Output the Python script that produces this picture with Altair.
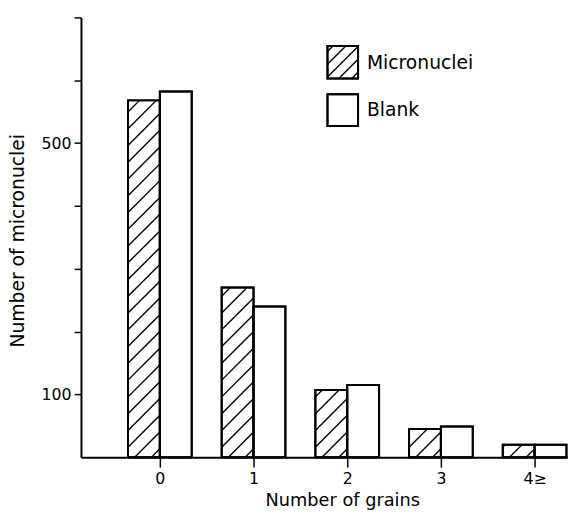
import altair as alt
import pandas as pd

# ---- data ----
grains = ["0", "1", "2", "3", "4≥"]
micronuclei = [568, 270, 107, 45, 20]
blank = [582, 240, 115, 49, 20]
y_ticks = [100, 200, 300, 400, 500, 600, 700]
y_labels = [100, 500]

# ---- layout ----
W, H = 493, 446
XMIN, XMAX = -0.842, 4.347
YMAX = 700
BW = 0.34          # bar width in category units
SP = 17            # hatch spacing (px)
FONT = "DejaVu Sans"

pxx = W / (XMAX - XMIN)
pxy = H / YMAX


def hatch(w_px, h_px, s=SP):
    """45-degree '/' hatch segments inside a w x h box, pixel units from bottom-left."""
    segs = []
    c = -w_px + s / 2
    while c < h_px:
        u0 = max(0.0, -c)
        u1 = min(w_px, h_px - c)
        if u1 > u0:
            segs.append((u0, c + u0, u1, c + u1))
        c += s
    return segs


bar_rows, hatch_rows = [], []
for i, g in enumerate(grains):
    bar_rows.append(dict(g=g, series="Micronuclei", x0=i - BW, x1=i, v=micronuclei[i]))
    bar_rows.append(dict(g=g, series="Blank", x0=i, x1=i + BW, v=blank[i]))
    for u0, h0, u1, h1 in hatch(BW * pxx, micronuclei[i] * pxy):
        hatch_rows.append(dict(x0=i - BW + u0 / pxx, v=h0 / pxy,
                               x1=i - BW + u1 / pxx, v2=h1 / pxy))
bars = pd.DataFrame(bar_rows)
hatches = pd.DataFrame(hatch_rows)

xs = alt.Scale(domain=[XMIN, XMAX], nice=False, zero=False)
ys = alt.Scale(domain=[0, YMAX], nice=False)

x_axis = alt.Axis(values=[0, 1, 2, 3, 4], title="Number of grains",
                  labelExpr="datum.value == 4 ? '4≥' : format(datum.value, 'd')",
                  domainColor="black", domainWidth=2, tickColor="black",
                  tickWidth=1.5, tickSize=10, labelPadding=4, labelFontSize=16,
                  labelColor="black", labelFont=FONT, titleFont=FONT,
                  titleFontSize=18, titleFontWeight="normal", titleColor="black",
                  titleX=265, titleY=44, titleBaseline="middle", grid=False,
                  labelFlush=False)
y_axis = alt.Axis(values=y_ticks, title="Number of micronuclei",
                  labelExpr="datum.value == 100 || datum.value == 500 ? datum.label : ''",
                  domainColor="black", domainWidth=2, tickColor="black",
                  tickWidth=1.5, tickSize=7, labelPadding=3, labelFontSize=16,
                  labelColor="black", labelFont=FONT, titleFont=FONT,
                  titleFontSize=19, titleFontWeight="normal", titleColor="black",
                  titleX=-64, titleY=226, titleBaseline="middle", grid=False)

fill_layer = alt.Chart(bars).mark_rect(fill="white", stroke="black", strokeWidth=2).encode(
    x=alt.X("x0:Q", scale=xs, axis=x_axis), x2="x1:Q",
    y=alt.Y("v:Q", scale=ys, axis=y_axis), y2=alt.datum(0),
)

hatch_layer = alt.Chart(hatches).mark_rule(color="black", strokeWidth=1.4).encode(
    x=alt.X("x0:Q", scale=xs, axis=x_axis), x2="x1:Q",
    y=alt.Y("v:Q", scale=ys, axis=y_axis), y2="v2:Q",
)

outline_layer = alt.Chart(bars).mark_rect(fillOpacity=0, stroke="black", strokeWidth=2).encode(
    x=alt.X("x0:Q", scale=xs, axis=x_axis), x2="x1:Q",
    y=alt.Y("v:Q", scale=ys, axis=y_axis), y2=alt.datum(0),
)

# ---- legend (pixel space) ----
leg_sq = pd.DataFrame([
    dict(name="Micronuclei", x=250, x2=281, y=29, y2=62, ty=46),
    dict(name="Blank", x=250, x2=281, y=78, y2=110, ty=94),
])
leg_hatch = pd.DataFrame([
    dict(x=250 + u0, y=62 - h0, x2=250 + u1, y2=62 - h1)
    for u0, h0, u1, h1 in hatch(31, 33, 13)
])
leg_rect = alt.Chart(leg_sq).mark_rect(fill="white", stroke="black", strokeWidth=2).encode(
    x=alt.X("x:Q", scale=None), x2="x2:Q", y=alt.Y("y:Q", scale=None), y2="y2:Q")
leg_h = alt.Chart(leg_hatch).mark_rule(color="black", strokeWidth=1.4).encode(
    x=alt.X("x:Q", scale=None), x2="x2:Q", y=alt.Y("y:Q", scale=None), y2="y2:Q")
leg_rect2 = alt.Chart(leg_sq).mark_rect(fillOpacity=0, stroke="black", strokeWidth=2).encode(
    x=alt.X("x:Q", scale=None), x2="x2:Q", y=alt.Y("y:Q", scale=None), y2="y2:Q")
leg_text = alt.Chart(leg_sq).mark_text(align="left", baseline="middle", fontSize=19,
                                       font=FONT, color="black").encode(
    x=alt.value(290), y=alt.Y("ty:Q", scale=None), text="name:N")

chart = alt.layer(
    fill_layer, hatch_layer, outline_layer, leg_rect, leg_h, leg_rect2, leg_text
).properties(
    width=W, height=H,
    autosize=alt.AutoSizeParams(type="none"),
    padding={"left": 74, "top": 6, "right": 8, "bottom": 54},
    background="white",
).configure_view(stroke=None)

chart.save("out.html", embed_options={"renderer": "svg", "actions": False})
